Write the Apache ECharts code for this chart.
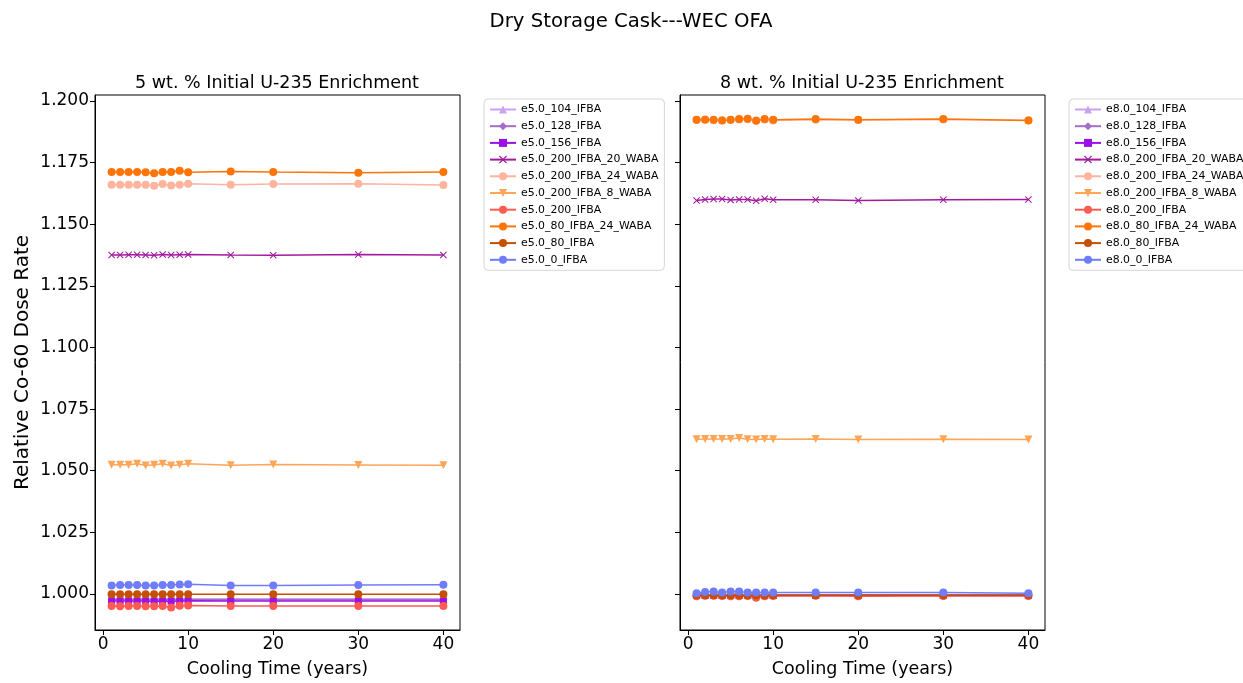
<!DOCTYPE html>
<html>
<head>
<meta charset="utf-8">
<script src="https://cdn.jsdelivr.net/npm/echarts@6/dist/echarts.min.js"></script>
<style>
  html, body { margin: 0; padding: 0; background: #fff; }
  #main { width: 1243px; height: 683px; }
</style>
</head>
<body>
<div id="main"></div>
<script>
// cooling times (years)
var times = [1, 2, 3, 4, 5, 6, 7, 8, 9, 10, 15, 20, 30, 40];
var cases = ['104_IFBA', '128_IFBA', '156_IFBA', '200_IFBA_20_WABA', '200_IFBA_24_WABA',
             '200_IFBA_8_WABA', '200_IFBA', '80_IFBA_24_WABA', '80_IFBA', '0_IFBA'];
var yTicks = [1.000, 1.025, 1.050, 1.075, 1.100, 1.125, 1.150, 1.175, 1.200];
var xTicks = [0, 10, 20, 30, 40];

// 5 wt.% values
var e5_104   = [0.9981, 0.9981, 0.9980, 0.9981, 0.9981, 0.9980, 0.9981, 0.9980, 0.9981, 0.9981, 0.9981, 0.9981, 0.9981, 0.9981];
var e5_128   = [0.9977, 0.9977, 0.9976, 0.9977, 0.9977, 0.9976, 0.9977, 0.9976, 0.9977, 0.9977, 0.9977, 0.9977, 0.9977, 0.9977];
var e5_156   = [0.9972, 0.9972, 0.9972, 0.9972, 0.9972, 0.9971, 0.9972, 0.9971, 0.9972, 0.9973, 0.9972, 0.9972, 0.9972, 0.9972];
var e5_20W   = [1.1375, 1.1375, 1.1376, 1.1376, 1.1375, 1.1374, 1.1377, 1.1375, 1.1376, 1.1377, 1.1375, 1.1374, 1.1377, 1.1375];
var e5_24W   = [1.1660, 1.1660, 1.1660, 1.1660, 1.1660, 1.1656, 1.1663, 1.1657, 1.1660, 1.1664, 1.1660, 1.1663, 1.1664, 1.1659];
var e5_8W    = [1.0524, 1.0524, 1.0524, 1.0528, 1.0521, 1.0524, 1.0528, 1.0521, 1.0524, 1.0528, 1.0522, 1.0525, 1.0523, 1.0522];
var e5_200   = [0.9951, 0.9950, 0.9951, 0.9951, 0.9950, 0.9950, 0.9951, 0.9945, 0.9952, 0.9953, 0.9951, 0.9951, 0.9951, 0.9951];
var e5_80_24 = [1.1712, 1.1712, 1.1712, 1.1712, 1.1711, 1.1707, 1.1712, 1.1712, 1.1717, 1.1711, 1.1714, 1.1712, 1.1709, 1.1712];
var e5_80    = [0.9999, 0.9999, 0.9999, 0.9999, 0.9999, 0.9999, 0.9999, 0.9999, 0.9999, 0.9999, 0.9999, 0.9999, 0.9999, 0.9999];
var e5_0     = [1.0035, 1.0037, 1.0037, 1.0037, 1.0034, 1.0035, 1.0037, 1.0037, 1.0039, 1.0040, 1.0034, 1.0035, 1.0037, 1.0038];

// 8 wt.% values
var e8_104   = [0.9997, 0.9997, 0.9997, 0.9997, 0.9997, 0.9997, 0.9997, 0.9996, 0.9997, 0.9997, 0.9997, 0.9997, 0.9997, 0.9997];
var e8_128   = [0.9996, 0.9996, 0.9996, 0.9996, 0.9996, 0.9996, 0.9996, 0.9995, 0.9996, 0.9996, 0.9996, 0.9996, 0.9996, 0.9996];
var e8_156   = [0.9994, 0.9994, 0.9994, 0.9994, 0.9994, 0.9994, 0.9994, 0.9993, 0.9994, 0.9994, 0.9994, 0.9994, 0.9994, 0.9994];
var e8_20W   = [1.1596, 1.1600, 1.1602, 1.1602, 1.1598, 1.1600, 1.1600, 1.1595, 1.1603, 1.1599, 1.1599, 1.1596, 1.1599, 1.1600];
var e8_24W   = [1.1923, 1.1925, 1.1922, 1.1922, 1.1923, 1.1925, 1.1926, 1.1921, 1.1925, 1.1921, 1.1924, 1.1923, 1.1925, 1.1922];
var e8_8W    = [1.0628, 1.0629, 1.0629, 1.0629, 1.0629, 1.0633, 1.0628, 1.0627, 1.0629, 1.0628, 1.0629, 1.0627, 1.0628, 1.0627];
var e8_200   = [0.9991, 0.9993, 0.9993, 0.9992, 0.9991, 0.9991, 0.9992, 0.9985, 0.9991, 0.9992, 0.9993, 0.9991, 0.9992, 0.9992];
var e8_80_24 = [1.1924, 1.1924, 1.1924, 1.1921, 1.1924, 1.1927, 1.1928, 1.1920, 1.1927, 1.1924, 1.1927, 1.1924, 1.1927, 1.1921];
var e8_80    = [0.9995, 0.9995, 0.9995, 0.9995, 0.9995, 0.9995, 0.9995, 0.9994, 0.9995, 0.9995, 0.9995, 0.9995, 0.9995, 0.9995];
var e8_0     = [1.0003, 1.0008, 1.0010, 1.0006, 1.0010, 1.0010, 1.0006, 1.0006, 1.0006, 1.0006, 1.0006, 1.0006, 1.0006, 1.0003];

var colors = ['#c9a3f2', '#a66cc4', '#9a10e6', '#a4189f', '#ffb49e', '#ffa556', '#ff5b52', '#ff7406', '#c54f02', '#6f7dfb'];
var crossPath = 'path://M0,1L1,0L5,4L9,0L10,1L6,5L10,9L9,10L5,6L1,10L0,9L4,5Z';
var symbols = ['triangle', 'diamond', 'rect', crossPath, 'circle', 'triangle', 'circle', 'circle', 'circle', 'circle'];
var symRot = [0, 0, 0, 0, 0, 180, 0, 0, 0, 0];
var symSize = [8, 8, 7, 7, 8, 8, 8, 8, 8, 8];

var panels = [
    {prefix: 'e5.0_', values: [e5_104, e5_128, e5_156, e5_20W, e5_24W, e5_8W, e5_200, e5_80_24, e5_80, e5_0]},
    {prefix: 'e8.0_', values: [e8_104, e8_128, e8_156, e8_20W, e8_24W, e8_8W, e8_200, e8_80_24, e8_80, e8_0]}
];

var font = 'DejaVu Sans';
var gridLeft = [95, 680];
var gridW = 365;

var series = [];
var legends = [];
var xAxes = [];
var yAxes = [];
var grids = [];

panels.forEach(function (p, pi) {
    var names = [];
    for (var i = 0; i < cases.length; i++) {
        var name = p.prefix + cases[i];
        names.push(name);
        var pts = [];
        for (var j = 0; j < times.length; j++) pts.push([times[j], p.values[i][j]]);
        series.push({
            name: name,
            type: 'line',
            xAxisIndex: pi,
            yAxisIndex: pi,
            data: pts,
            symbol: symbols[i],
            symbolRotate: symRot[i],
            symbolSize: symSize[i],
            showAllSymbol: true,
            color: colors[i],
            lineStyle: {width: 1.5, color: colors[i]},
            itemStyle: {color: colors[i], opacity: 1},
            emphasis: {disabled: true}
        });
    }
    grids.push({left: gridLeft[pi], top: 95, width: gridW, height: 537, show: true,
                borderColor: '#000', borderWidth: 1, backgroundColor: 'transparent'});
    xAxes.push({
        type: 'value', gridIndex: pi, min: -0.95, max: 41.95,
        name: 'Cooling Time (years)', nameLocation: 'middle', nameGap: 30,
        nameTextStyle: {fontFamily: font, fontSize: 17.5, color: '#000'},
        axisLine: {show: true, onZero: false, lineStyle: {color: '#000', width: 1}},
        axisTick: {show: true, length: 5, customValues: xTicks, lineStyle: {color: '#000'}},
        axisLabel: {customValues: xTicks, fontFamily: font, fontSize: 17, color: '#000', margin: 6},
        splitLine: {show: false}
    });
    yAxes.push({
        type: 'value', gridIndex: pi, min: 0.9854, max: 1.2024,
        name: pi === 0 ? 'Relative Co-60 Dose Rate' : '', nameLocation: 'middle', nameGap: 62,
        nameTextStyle: {fontFamily: font, fontSize: 20, color: '#000'},
        axisLine: {show: true, onZero: false, lineStyle: {color: '#000', width: 1}},
        axisTick: {show: true, length: 5, customValues: yTicks, lineStyle: {color: '#000'}},
        axisLabel: {show: pi === 0, customValues: yTicks, fontFamily: font, fontSize: 17, color: '#000', margin: 6,
                    formatter: function (v) { return v.toFixed(3); }},
        splitLine: {show: false}
    });
    legends.push({
        data: names, orient: 'vertical', left: gridLeft[pi] + gridW + 24, top: 99,
        itemWidth: 26, itemHeight: 10, itemGap: 5.7,
        padding: [5, 6, 5, 5], borderColor: '#d6d6d6', borderWidth: 1, borderRadius: 4,
        textStyle: {fontFamily: font, fontSize: 10.9, color: '#000'},
        selectedMode: false
    });
});

var chart = echarts.init(document.getElementById('main'), null, {renderer: 'canvas'});
chart.setOption({
    animation: false,
    backgroundColor: '#fff',
    title: [
        {text: 'Dry Storage Cask---WEC OFA', left: 626, top: 7, textAlign: 'center',
         textStyle: {fontFamily: font, fontSize: 19.7, fontWeight: 'normal', color: '#000'}},
        {text: '5 wt. % Initial U-235 Enrichment', left: 272, top: 69, textAlign: 'center',
         textStyle: {fontFamily: font, fontSize: 17.5, fontWeight: 'normal', color: '#000'}},
        {text: '8 wt. % Initial U-235 Enrichment', left: 857, top: 69, textAlign: 'center',
         textStyle: {fontFamily: font, fontSize: 17.5, fontWeight: 'normal', color: '#000'}}
    ],
    grid: grids,
    xAxis: xAxes,
    yAxis: yAxes,
    legend: legends,
    series: series
});
</script>
</body>
</html>
